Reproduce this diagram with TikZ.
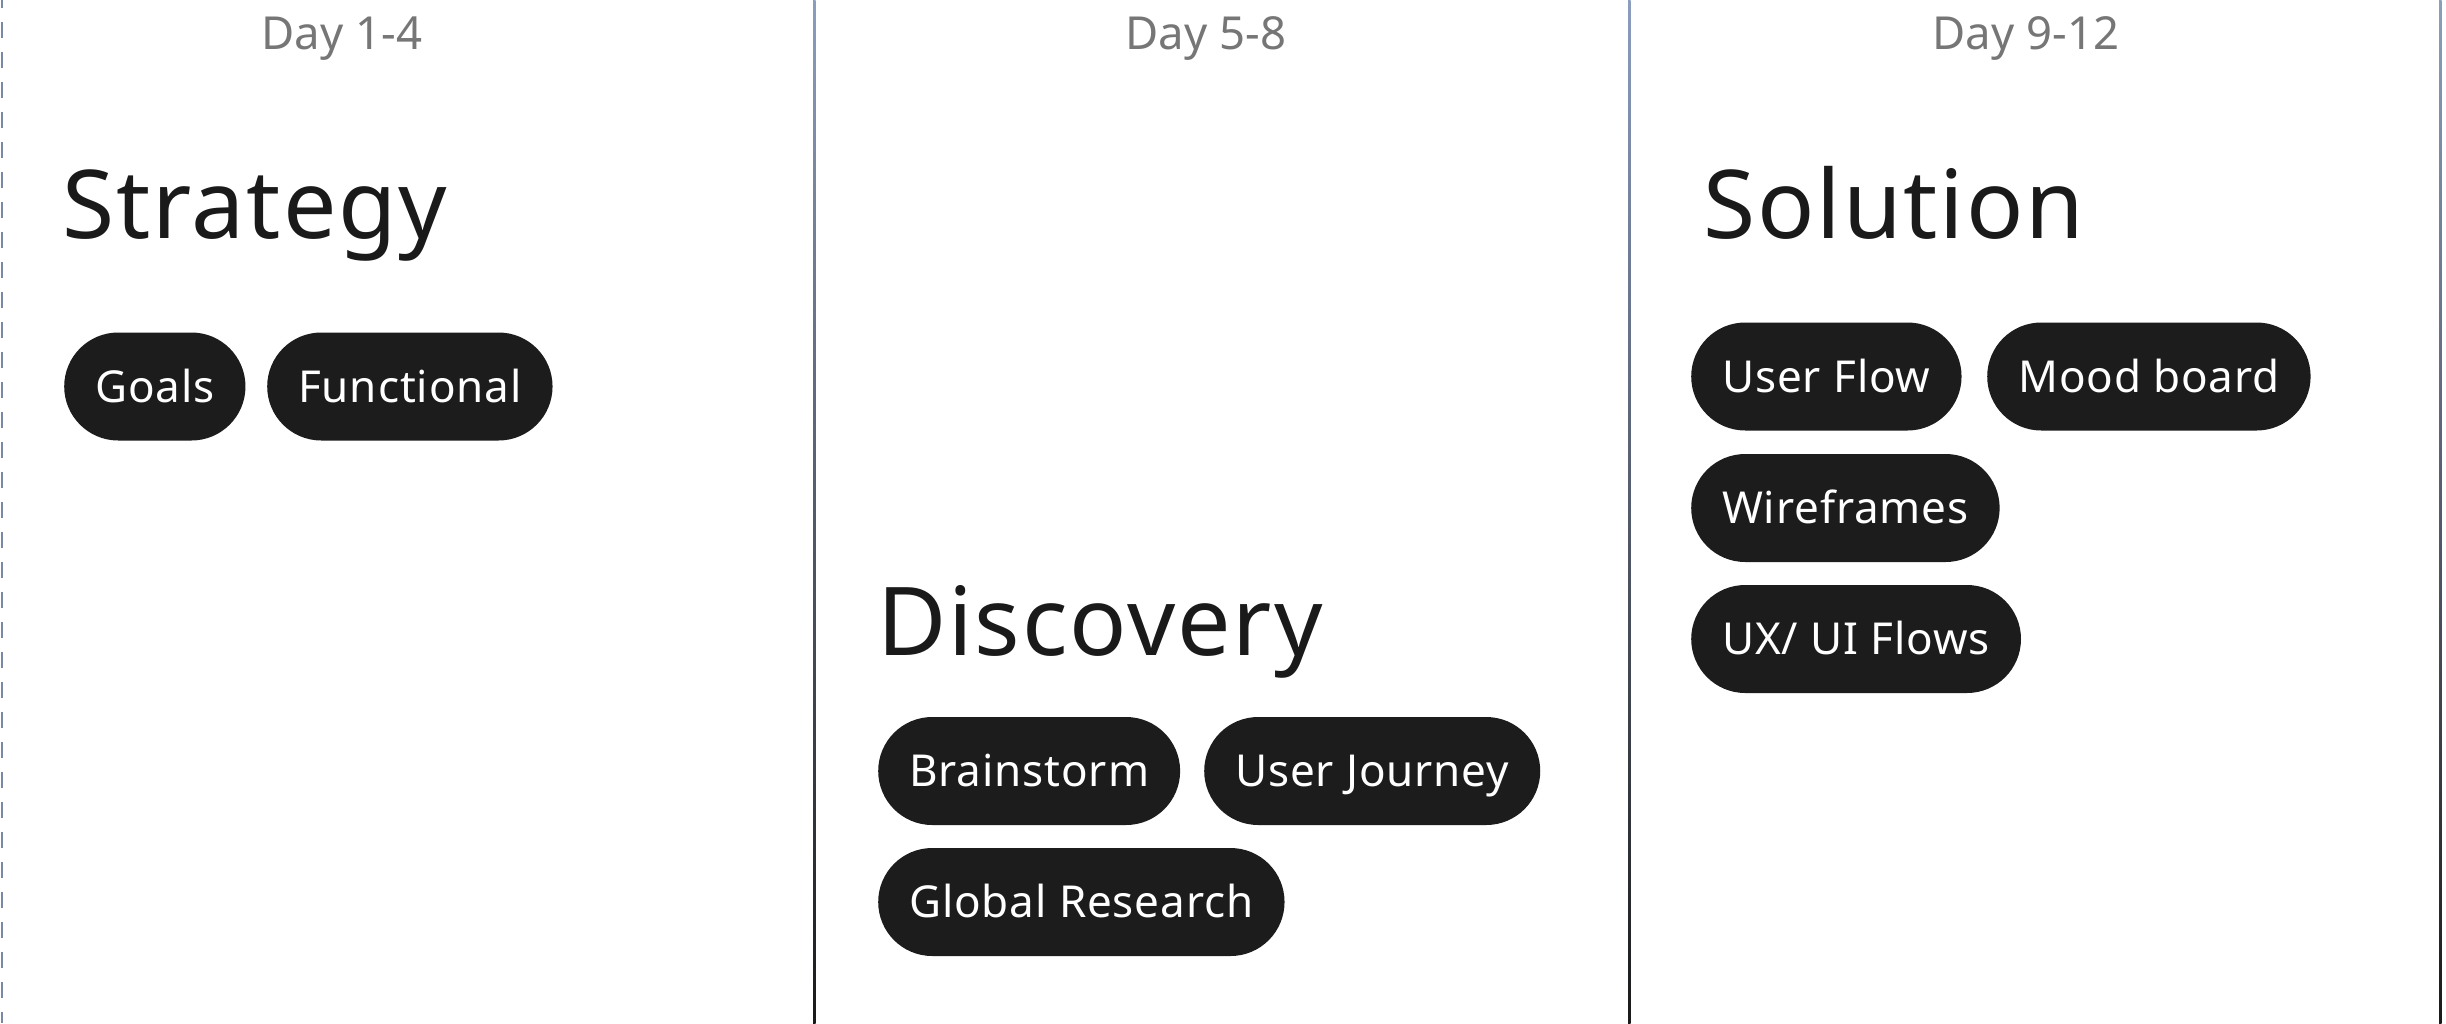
\documentclass[tikz,border=0pt]{standalone}
\usepackage{fontspec}
\setmainfont{Noto Sans}[LetterSpace=2.0]
\newfontfamily\dayfont{Noto Sans}
\definecolor{pillfill}{HTML}{1C1C1C}
\definecolor{titlecol}{HTML}{1A1A1A}
\definecolor{daycol}{HTML}{767676}
\definecolor{linetop}{HTML}{8C9DBE}
\definecolor{linebot}{HTML}{1A1A1A}
\definecolor{dashcol}{HTML}{7A88A8}
\tikzset{
  pill/.style={anchor=west, fill=pillfill, text=white, rounded corners=54pt,
    minimum height=108pt, inner xsep=31pt, inner ysep=0pt,
    text height=31pt, text depth=0pt, font=\fontsize{44}{50}\selectfont},
  daylbl/.style={anchor=base, text=daycol, inner sep=0pt, font=\dayfont\fontsize{45.5}{50}\selectfont},
  titlelbl/.style={anchor=base west, text=titlecol, inner sep=0pt, font=\fontsize{95}{100}\selectfont},
}
\begin{document}
\begin{tikzpicture}[x=1pt,y=-1pt]
\useasboundingbox (0,0) rectangle (2446,1023);
\fill[white] (0,0) rectangle (2446,1023);
% column separators
\draw[dashcol, line width=2.5pt, dash pattern=on 16pt off 14pt, dash phase=8pt] (2,0) -- (2,1023);
\shade[top color=linetop, bottom color=linebot] (813,0) rectangle (815.5,1023);
\shade[top color=linetop, bottom color=linebot] (1628,0) rectangle (1630.5,1023);
\shade[top color=linetop, bottom color=linebot] (2439,0) rectangle (2441.5,1023);
% day labels
\node[daylbl] (d1) at (342,49) {Day 1-4};
\node[daylbl] (d2) at (1206,49) {Day 5-8};
\node[daylbl] (d3) at (2026,49) {Day 9-12};
% titles
\node[titlelbl] (t1) at (62,238) {Strategy};
\node[titlelbl] (t2) at (877,655) {Discovery};
\node[titlelbl] (t3) at (1703,238) {Solution};
% pills
\node[pill] (goals) at (64,386.5) {Goals};
\node[pill] (func) at (267,386.5) {Functional};
\node[pill] (brain) at (878,771) {Brainstorm};
\node[pill] (journey) at (1204,771) {User Journey};
\node[pill] (global) at (878,902) {Global Research};
\node[pill] (flow) at (1691,376.5) {User Flow};
\node[pill] (mood) at (1987,376.5) {Mood board};
\node[pill] (wire) at (1691,508) {Wireframes};
\node[pill] (uxui) at (1691,639) {UX/ UI Flows};
\end{tikzpicture}
\end{document}
